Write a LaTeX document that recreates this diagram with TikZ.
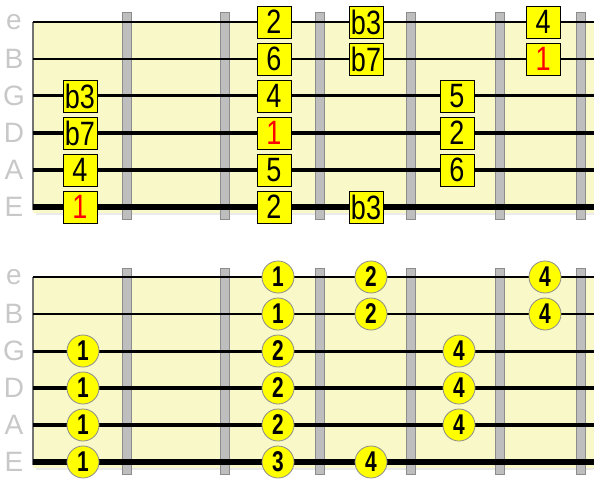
\documentclass[tikz,border=0pt]{standalone}
\usepackage{fontspec}
\setmainfont{Liberation Sans}
\definecolor{board}{HTML}{F8F8C8}
\definecolor{fretfill}{HTML}{BEBEBE}
\definecolor{fretline}{HTML}{8C8C8C}
\definecolor{lbl}{HTML}{C8C8C8}
\definecolor{noteyel}{HTML}{FFFF00}
\newcommand\tallt[1]{\scalebox{1}[1.25]{#1}}
\newcommand\tallc[1]{\scalebox{0.95}[1.3]{#1}}
\begin{document}
\begin{tikzpicture}[x=1pt,y=-1pt,
  boardbg/.style={fill=board},
  edgeline/.style={draw=black!55,line width=1.5pt},
  fretbar/.style={fill=fretfill,draw=fretline,line width=1pt},
  notebox/.style={draw=black,fill=noteyel,line width=0.8pt,minimum width=34pt,minimum height=32pt,inner sep=0pt,font=\fontsize{27}{27}\selectfont},
  notecirc/.style={circle,draw=fretline,fill=noteyel,line width=0.8pt,minimum size=32pt,inner sep=0pt,font=\fontsize{22}{22}\selectfont\bfseries},
  strlabel/.style={text=lbl,font=\fontsize{28}{28}\selectfont,inner sep=0pt}]
\useasboundingbox (0,0) rectangle (599,489);
\foreach \d/\yb in {t/22,b/277}{
  \fill[boardbg] (33,\yb) rectangle (594,\yb+191);
  \fill[black!8] (36,\yb+191) rectangle (594,\yb+193);
  \draw[edgeline] (33,\yb) -- (33,\yb+188);
  \foreach \fx in {127,225,320,411,500,581}{
    \draw[fretbar] (\fx-4.5,\yb-9) rectangle (\fx+4.5,\yb+197);
  }
  \foreach \i/\s/\w in {0/e/1.8,1/B/2.2,2/G/3,3/D/3.5,4/A/4.3,5/E/6}{
    \coordinate (\d l\i) at (33,\yb+37*\i);
    \coordinate (\d r\i) at (594,\yb+37*\i);
    \draw[line width=\w pt] (\d l\i) -- (\d r\i);
    \node[strlabel] (\d lab\i) at (14,\yb+37*\i) {\s};
  }
}
% top diagram: intervals
\foreach \n/\x/\i/\t in {a/80/2/b3,b/80/3/b7,c/80/4/4,
  e/274/0/2,f/274/1/6,g/274/2/4,i/274/4/5,j/274/5/2,
  k/366/0/b3,l/366/1/b7,m/366/5/b3,
  n/457/2/5,o/457/3/2,p/457/4/6,
  q/543/0/4}{
  \node[notebox] (top\n) at (\x,22+37*\i) {\tallt{\t}};
}
\foreach \n/\x/\i in {d/80/5,h/274/3,r/543/1}{
  \node[notebox,text=red] (top\n) at (\x,22+37*\i) {\tallt{1}};
}
% bottom diagram: fingers
\foreach \n/\x/\i/\t in {a/83/2/1,b/83/3/1,c/83/4/1,d/83/5/1,
  e/278/0/1,f/278/1/1,g/278/2/2,h/278/3/2,i/278/4/2,j/278/5/3,
  k/371/0/2,l/371/1/2,m/371/5/4,
  n/459/2/4,o/459/3/4,p/459/4/4,
  q/545/0/4,r/545/1/4}{
  \node[notecirc] (bot\n) at (\x,277+37*\i) {\tallc{\t}};
}
\end{tikzpicture}
\end{document}
